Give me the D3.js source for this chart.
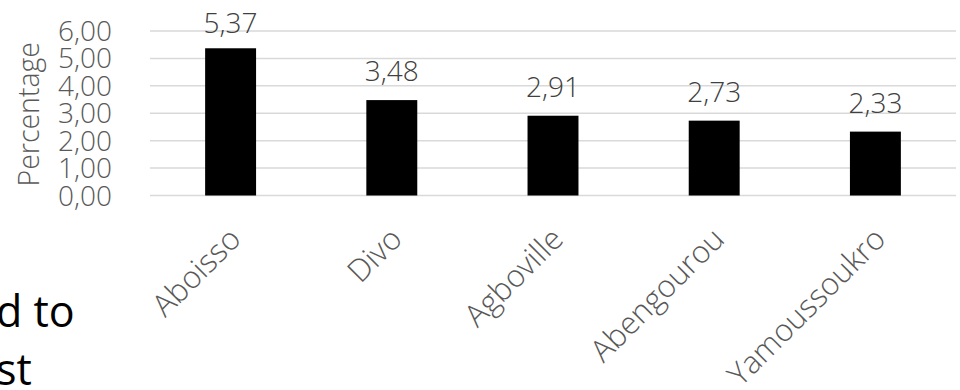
<!DOCTYPE html>
<html><head><meta charset="utf-8">
<script src="https://cdn.jsdelivr.net/npm/d3@7/dist/d3.min.js"></script>
<style>
html,body{margin:0;padding:0;background:#fff;}
svg{display:block;font-family:"Open Sans","Noto Sans",sans-serif;}
.lt{font-weight:300;}
</style></head>
<body>
<svg id="chart" width="960" height="390"></svg>
<script>
const categories = ["Aboisso","Divo","Agboville","Abengourou","Yamoussoukro"];
const values = [5.37, 3.48, 2.91, 2.73, 2.33];
const valueLabels = ["5,37","3,48","2,91","2,73","2,33"];
const yTicks = [0,1,2,3,4,5,6];
const yTickLabels = ["0,00","1,00","2,00","3,00","4,00","5,00","6,00"];
const yTitle = "Percentage";
const sideText = ["d to","st"];

const svg = d3.select("#chart");
const mLeft = 150, mRight = 956, mTop = 31, mBottom = 195.5;

const x = d3.scaleBand().domain(categories).range([mLeft,mRight]).paddingInner(0.684).paddingOuter(0.342);
const y = d3.scaleLinear().domain([0,6]).range([mBottom, mTop]);

// gridlines
svg.append("g").selectAll("line").data(yTicks).join("line")
  .attr("x1", mLeft).attr("x2", mRight)
  .attr("y1", d=>y(d)).attr("y2", d=>y(d))
  .attr("stroke", "#d9d9d9").attr("stroke-width", 1.5);

// y tick labels
svg.append("g").attr("class","lt").selectAll("text").data(yTicks).join("text")
  .attr("x", 112).attr("y", d=>y(d)).attr("dy","0.36em")
  .attr("text-anchor","end").attr("font-size", 28).attr("fill","#595959")
  .text((d,i)=>yTickLabels[i]);

// y title
svg.append("text").attr("class","lt")
  .attr("transform", `translate(39,${(y(0)+y(6))/2+1}) rotate(-90)`)
  .attr("text-anchor","middle").attr("font-size",28.5).attr("fill","#595959")
  .text(yTitle);

// bars
svg.append("g").selectAll("rect").data(values).join("rect")
  .attr("x",(d,i)=>x(categories[i])).attr("width", x.bandwidth())
  .attr("y", d=>y(d)).attr("height", d=>y(0)-y(d))
  .attr("fill","#000");

// value labels
svg.append("g").attr("class","lt").selectAll("text").data(values).join("text")
  .attr("x",(d,i)=>x(categories[i])+x.bandwidth()/2)
  .attr("y", d=>Math.max(y(d)-19, 33))
  .attr("text-anchor","middle").attr("font-size",28).attr("fill","#404040")
  .text((d,i)=>valueLabels[i]);

// x labels
svg.append("g").attr("class","lt").selectAll("text").data(categories).join("text")
  .attr("transform", d=>`translate(${x(d)+x.bandwidth()/2+12},${241}) rotate(-45)`)
  .attr("text-anchor","end").attr("font-size",31).attr("fill","#595959")
  .text(d=>d);

// side text (surrounding document)
svg.append("g").selectAll("text").data(sideText).join("text")
  .attr("x", -4).attr("y",(d,i)=>327+i*58)
  .attr("text-anchor","start").attr("font-size",43).attr("fill","#000")
  .text(d=>d);
</script>
</body></html>
